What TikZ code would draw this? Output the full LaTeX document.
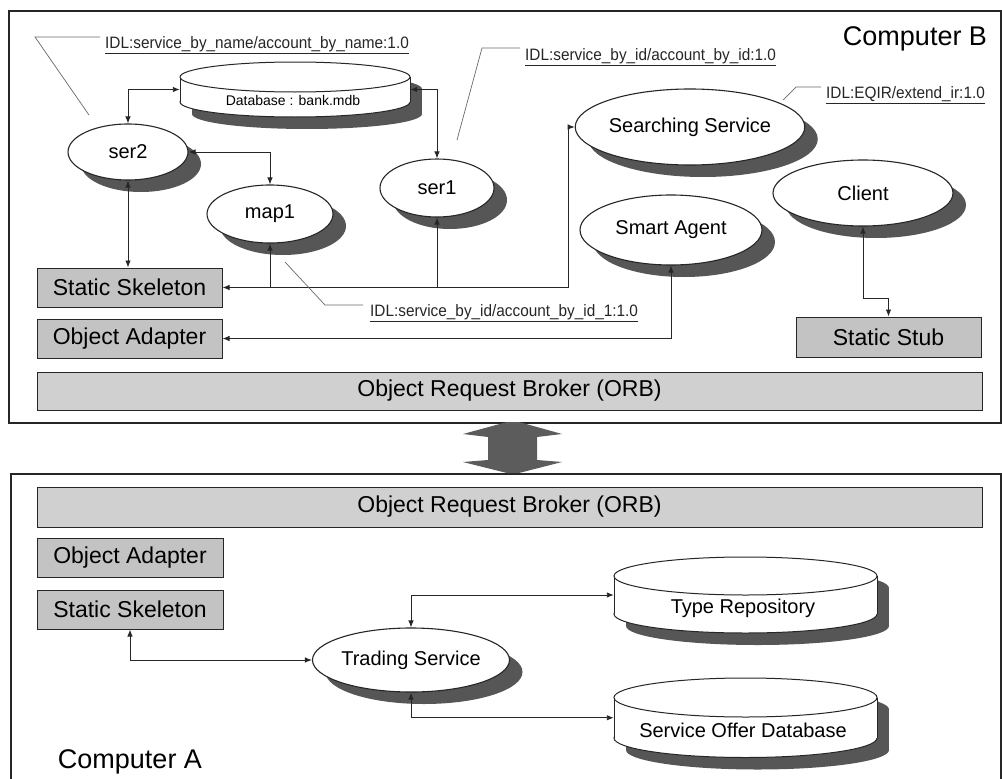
\documentclass[tikz,border=0pt]{standalone}
\usepackage{fontspec}
\setmainfont{Liberation Sans}
\newfontfamily\idlfont[FakeStretch=0.93]{Liberation Sans}
\usetikzlibrary{arrows.meta,shapes.geometric,shadows}

\definecolor{inkc}{HTML}{262626}
\definecolor{shadowc}{HTML}{565656}
\definecolor{layerc}{HTML}{C3C3C3}
\definecolor{orbc}{HTML}{D0D0D0}
\definecolor{pipec}{HTML}{5C5C5C}
\definecolor{leaderc}{HTML}{6A6A6A}

\tikzset{
  frame/.style={draw=inkc, line width=2.2pt, inner sep=0pt},
  layer/.style={rectangle, draw=inkc, line width=1pt, fill=layerc, inner sep=0pt,
    font=\fontsize{23}{26}\selectfont},
  orbbar/.style={layer, fill=orbc},
  oval/.style={ellipse, draw=inkc, line width=1.1pt, fill=white, inner sep=0pt,
    font=\fontsize{20}{24}\selectfont,
    drop shadow={shadow xshift=13pt, shadow yshift=-12pt, fill=shadowc, opacity=1}},
  link/.style={draw=inkc, line width=0.9pt},
  leader/.style={draw=leaderc, line width=0.7pt},
  idl/.style={font=\idlfont\fontsize{16.5}{19}\selectfont, inner sep=0pt, text=inkc, anchor=west},
  cyltext/.style={font=\fontsize{20}{24}\selectfont, inner sep=0pt},
  hostlabel/.style={font=\fontsize{27}{30}\selectfont, inner sep=0pt},
  area/.style={inner sep=0pt, draw=none},
}

% database drum: left x, right x, top-ellipse centre y, bottom-ellipse centre y, y radius
\newcommand{\cylinderdrum}[5]{%
  \fill[shadowc] (#1+12,#3+12) rectangle (#2+12,#4+12);
  \fill[shadowc] ({(#1+#2)/2+12},#4+12) ellipse [x radius={(#2-#1)/2}, y radius=#5];
  \fill[shadowc] ({(#1+#2)/2+12},#3+12) ellipse [x radius={(#2-#1)/2}, y radius=#5];
  \filldraw[fill=white, draw=inkc, line width=1pt] ({(#1+#2)/2},#4) ellipse [x radius={(#2-#1)/2}, y radius=#5];
  \fill[white] (#1,#3) rectangle (#2,#4);
  \draw[inkc, line width=1pt] (#1,#3) -- (#1,#4) (#2,#3) -- (#2,#4);
  \filldraw[fill=white, draw=inkc, line width=1pt] ({(#1+#2)/2},#3) ellipse [x radius={(#2-#1)/2}, y radius=#5];
}

\begin{document}
\begin{tikzpicture}[x=1pt, y=-1pt, >={Latex[length=7pt,width=5.5pt]}]
\useasboundingbox (0,0) rectangle (1002,779);
\fill[white] (0,0) rectangle (1002,779);

% ---------- host frames ----------
\node[frame, minimum width=992pt, minimum height=412pt, anchor=north west] (hostB) at (8,10) {};
\node[frame, minimum width=990pt, minimum height=330pt, anchor=north west] (hostA) at (10,473) {};

% ORB-to-ORB link
\fill[pipec] (507,422) -- (519,422) -- (562,434) -- (537,437) -- (537,460) -- (562,462)
  -- (519,473) -- (507,473) -- (463,462) -- (488,460) -- (488,437) -- (463,434) -- cycle;

% ---------- Computer B ----------
\node[hostlabel] (labB) at (915,39) {Computer B};

\node[orbbar, minimum width=945pt, minimum height=38pt] (orbB) at (509.5,391) {Object Request Broker (ORB)};
\node[layer, minimum width=185pt, minimum height=39pt] (skelB) at (129.5,287.5) {Static Skeleton};
\node[layer, minimum width=185pt, minimum height=39pt] (adaptB) at (129.5,338.5) {Object Adapter};
\node[layer, minimum width=185pt, minimum height=40pt] (stub) at (888.5,337) {Static Stub};

\cylinderdrum{180}{410}{77}{102}{15}
\node[area, minimum width=230pt, minimum height=55pt] (bankdb) at (295,89.5) {};
\node[font=\fontsize{14}{16}\selectfont, inner sep=0pt] (bankdbtext) at (293,100) {Database : bank.mdb};

\node[oval, minimum width=120pt, minimum height=56pt] (ser2) at (128,152) {ser2};
\node[oval, minimum width=126pt, minimum height=58pt] (map1) at (270,214) {map1};
\node[oval, minimum width=114pt, minimum height=58pt] (ser1) at (437,188) {ser1};
\node[oval, minimum width=196pt, minimum height=76pt] (search) at (690,127) {Searching Service};
\node[oval, minimum width=182pt, minimum height=70pt] (agent) at (671,230) {Smart Agent};
\node[oval, minimum width=180pt, minimum height=66pt] (client) at (863,193) {Client};

\draw[link, <->] (ser2.north) |- (bankdb.west);
\draw[link, <->] (bankdb.east) -| (ser1.north);
\draw[link, <->] (ser2.east) -| (map1.north);
\draw[link, <->] (ser2.south) -- (ser2.south |- skelB.north);
\coordinate (busturn) at (568,287.5);
\draw[link, <->] (skelB.east) -- (busturn) |- (search.west);
\draw[link, ->] (map1.south |- skelB.east) -- (map1.south);
\draw[link, ->] (ser1.south |- skelB.east) -- (ser1.south);
\draw[link, <->] (adaptB.east) -| (agent.south);
\coordinate (stubturn) at (863,298);
\draw[link, <->] (client.south) -- (stubturn) -| (stub.north);

% interface repository ids
\node[idl] (idlname) at (105,45) {\underline{IDL:service\_by\_name/account\_by\_name:1.0}};
\draw[leader] (89,115) -- (35,37) -- (100,37);
\node[idl] (idlid) at (525,57) {\underline{IDL:service\_by\_id/account\_by\_id:1.0}};
\draw[leader] (457,140) -- (482,48) -- (520,48);
\node[idl] (idlidone) at (370,313) {\underline{IDL:service\_by\_id/account\_by\_id\_1:1.0}};
\draw[leader] (285,262) -- (325,305) -- (363,305);
\node[idl] (idleqir) at (826,95) {\underline{IDL:EQIR/extend\_ir:1.0}};
\draw[leader] (783,100) -- (796,87) -- (821,87);

% ---------- Computer A ----------
\node[orbbar, minimum width=945pt, minimum height=40pt] (orbA) at (509.5,507) {Object Request Broker (ORB)};
\node[layer, minimum width=186pt, minimum height=39pt] (adaptA) at (130,557.5) {Object Adapter};
\node[layer, minimum width=186pt, minimum height=39pt] (skelA) at (130,609.5) {Static Skeleton};

\node[oval, minimum width=196pt, minimum height=64pt] (trade) at (411,660) {Trading Service};

\cylinderdrum{614}{877}{576}{614}{19}
\node[area, minimum width=263pt, minimum height=76pt] (typerepo) at (745.5,595) {};
\node[cyltext] (typerepotext) at (743,608) {Type Repository};

\cylinderdrum{614}{877}{697.5}{738}{19.5}
\node[area, minimum width=263pt, minimum height=80pt] (offerdb) at (745.5,717.75) {};
\node[cyltext] (offerdbtext) at (743,730) {Service Offer Database};

\draw[link, <->] (skelA.south) |- (trade.west);
\draw[link, <->] (trade.north) |- (typerepo.west);
\draw[link, <->] (trade.south) |- (offerdb.west);

\node[hostlabel] (labA) at (130,762) {Computer A};
\end{tikzpicture}
\end{document}
